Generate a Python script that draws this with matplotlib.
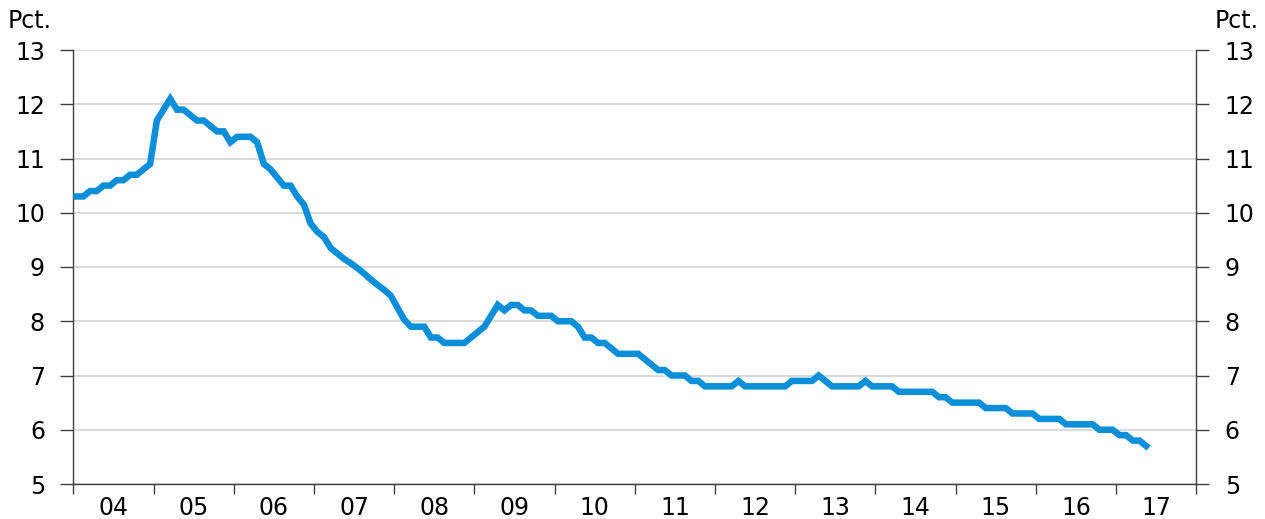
import matplotlib
matplotlib.use("Agg")
import matplotlib.pyplot as plt
import numpy as np

# Monthly values (Pct.), Jan 2004 - May 2017
v2004 = [10.3, 10.3, 10.4, 10.4, 10.5, 10.5, 10.6, 10.6, 10.7, 10.7, 10.8, 10.9]
v2005 = [11.7, 11.9, 12.1, 11.9, 11.9, 11.8, 11.7, 11.7, 11.6, 11.5, 11.5, 11.3]
v2006 = [11.4, 11.4, 11.4, 11.3, 10.9, 10.8, 10.65, 10.5, 10.5, 10.3, 10.15, 9.8]
v2007 = [9.65, 9.55, 9.35, 9.25, 9.15, 9.07, 8.98, 8.88, 8.77, 8.67, 8.58, 8.47]
v2008 = [8.25, 8.03, 7.9, 7.9, 7.9, 7.7, 7.7, 7.6, 7.6, 7.6, 7.6, 7.7]
v2009 = [7.8, 7.9, 8.1, 8.3, 8.2, 8.3, 8.3, 8.2, 8.2, 8.1, 8.1, 8.1]
v2010 = [8.0, 8.0, 8.0, 7.9, 7.7, 7.7, 7.6, 7.6, 7.5, 7.4, 7.4, 7.4]
v2011 = [7.4, 7.3, 7.2, 7.1, 7.1, 7.0, 7.0, 7.0, 6.9, 6.9, 6.8, 6.8]
v2012 = [6.8, 6.8, 6.8, 6.9, 6.8, 6.8, 6.8, 6.8, 6.8, 6.8, 6.8, 6.9]
v2013 = [6.9, 6.9, 6.9, 7.0, 6.9, 6.8, 6.8, 6.8, 6.8, 6.8, 6.9, 6.8]
v2014 = [6.8, 6.8, 6.8, 6.7, 6.7, 6.7, 6.7, 6.7, 6.7, 6.6, 6.6, 6.5]
v2015 = [6.5, 6.5, 6.5, 6.5, 6.4, 6.4, 6.4, 6.4, 6.3, 6.3, 6.3, 6.3]
v2016 = [6.2, 6.2, 6.2, 6.2, 6.1, 6.1, 6.1, 6.1, 6.1, 6.0, 6.0, 6.0]
v2017 = [5.9, 5.9, 5.8, 5.8, 5.7]

years = list(range(2004, 2018))
year_labels = ["04", "05", "06", "07", "08", "09", "10", "11", "12", "13", "14", "15", "16", "17"]
y_ticks = [5, 6, 7, 8, 9, 10, 11, 12, 13]

values = v2004 + v2005 + v2006 + v2007 + v2008 + v2009 + v2010 + v2011 + v2012 + v2013 + v2014 + v2015 + v2016 + v2017
months = np.arange(len(values))
x = years[0] + (months + 0.5) / 12.0

plt.rcParams['font.family'] = ['DejaVu Sans']

fig = plt.figure(figsize=(12.65, 5.19), dpi=100)
ax = fig.add_axes([73.3 / 1265, 1 - 484 / 519, (1196.3 - 73.3) / 1265, (484 - 50) / 519])

ax.plot(x, values, color='#0b8fd8', linewidth=4.7, solid_joinstyle='miter', zorder=3)

ax.set_xlim(years[0], years[-1] + 1)
ax.set_ylim(5, 13)

ax.set_yticks(y_ticks)
ax.set_yticklabels([str(t) for t in y_ticks])
ax.yaxis.grid(True, color='#cfcfcf', linewidth=1.1)
ax.set_axisbelow(True)

ax.tick_params(axis='y', which='major', left=True, right=True, labelleft=True, labelright=True,
               direction='out', length=9.4, width=1.0, color='#404040', labelsize=17, pad=11)

# X axis: boundary ticks at year starts, labels centred in each year
ax.set_xticks(years + [years[-1] + 1])
ax.set_xticklabels([])
ax.set_xticks([y + 0.5 for y in years], minor=True)
ax.set_xticklabels(year_labels, minor=True)
ax.tick_params(axis='x', which='major', direction='out', length=7.2, width=1.0, color='#404040')
ax.tick_params(axis='x', which='minor', length=0, labelsize=17, pad=8.5)

for side in ['left', 'right', 'bottom']:
    ax.spines[side].set_color('#404040')
    ax.spines[side].set_linewidth(1.0)
ax.spines['top'].set_visible(False)

fig.text(8 / 1265, 1 - 21 / 519, 'Pct.', ha='left', va='center', fontsize=17)
fig.text(1259 / 1265, 1 - 21 / 519, 'Pct.', ha='right', va='center', fontsize=17)

fig.savefig('out.png', dpi=100)
